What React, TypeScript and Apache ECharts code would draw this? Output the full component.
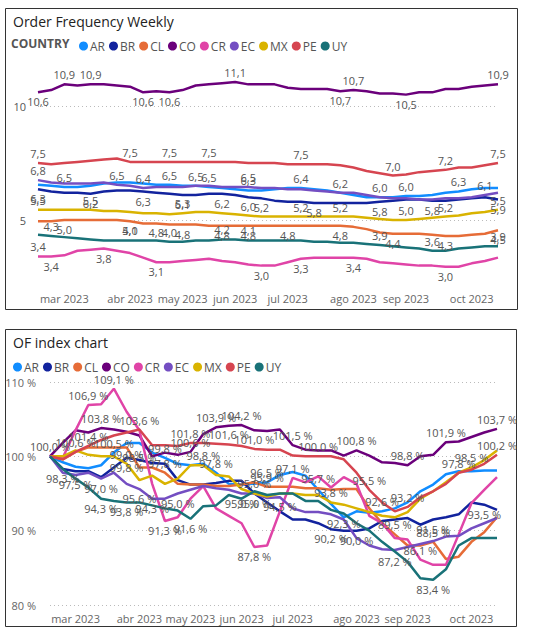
import * as echarts from 'echarts';
import React, { useEffect, useRef } from 'react';

const countries = ['AR', 'BR', 'CL', 'CO', 'CR', 'EC', 'MX', 'PE', 'UY'];
const colors = ['#118DFF', '#12239E', '#E66C37', '#6B007B', '#E044A7', '#744EC2', '#D9B300', '#D64550', '#197278'];

// weekly categories, from 2023-02-20
const weeks: string[] = [];
for (let i = 0; i < 36; i++) {
  const d = new Date(Date.UTC(2023, 1, 20 + i * 7));
  weeks.push(d.toISOString().slice(0, 10));
}
const monthIdx = [2, 7, 11, 15, 19, 24, 28, 33];
const monthNames = ['mar 2023', 'abr 2023', 'may 2023', 'jun 2023', 'jul 2023', 'ago 2023', 'sep 2023', 'oct 2023'];

// Order frequency weekly
const ofAR = [6.55,6.5,6.45,6.45,6.5,6.6,6.65,6.65,6.6,6.55,6.55,6.5,6.5,6.45,6.4,6.35,6.3,6.3,6.35,6.4,6.4,6.35,6.3,6.2,6.1,6.0,6.0,6.0,6.05,6.05,6.1,6.2,6.25,6.35,6.4,6.4];
const ofBR = [6.35,6.25,6.2,6.2,6.15,6.25,6.3,6.3,6.25,6.2,6.15,6.1,6.1,6.15,6.15,6.1,6.0,5.95,5.85,5.8,5.8,5.75,5.75,5.75,5.75,5.75,5.8,5.85,5.9,5.9,5.85,5.85,5.9,5.95,6.0,5.9];
const ofCL = [4.95,4.95,5.0,5.0,5.0,5.0,5.0,4.95,4.85,4.85,4.8,4.8,4.8,4.75,4.75,4.75,4.75,4.75,4.75,4.75,4.75,4.75,4.75,4.75,4.7,4.6,4.45,4.4,4.4,4.4,4.35,4.3,4.3,4.35,4.4,4.55];
const ofCO = [10.6,10.7,10.95,10.9,10.95,10.95,10.9,10.85,10.6,10.65,10.6,10.7,10.9,10.95,11.0,11.05,10.95,10.95,10.95,10.8,10.75,10.75,10.75,10.65,10.7,10.65,10.55,10.55,10.5,10.6,10.6,10.75,10.75,10.85,10.9,10.95];
const ofCR = [3.4,3.4,3.45,3.65,3.7,3.75,3.65,3.55,3.35,3.15,3.15,3.2,3.25,3.3,3.2,3.15,3.05,3.0,3.0,3.15,3.3,3.35,3.35,3.35,3.35,3.3,3.15,3.1,3.05,3.0,3.0,2.95,2.95,3.1,3.2,3.35];
const ofEC = [6.75,6.65,6.6,6.6,6.6,6.65,6.55,6.5,6.4,6.45,6.45,6.45,6.5,6.5,6.45,6.45,6.45,6.4,6.4,6.35,6.35,6.3,6.25,6.2,6.2,6.1,6.0,5.95,5.95,5.9,5.9,5.95,5.95,6.0,6.1,6.2];
const ofMX = [5.45,5.45,5.45,5.45,5.45,5.4,5.4,5.35,5.3,5.3,5.25,5.3,5.35,5.35,5.3,5.25,5.2,5.15,5.15,5.15,5.15,5.15,5.15,5.15,5.15,5.1,5.05,5.0,5.0,5.05,5.1,5.15,5.2,5.3,5.35,5.45];
const ofPE = [7.5,7.45,7.5,7.55,7.6,7.65,7.7,7.55,7.55,7.55,7.55,7.55,7.55,7.55,7.55,7.55,7.5,7.5,7.5,7.45,7.45,7.45,7.45,7.4,7.3,7.15,7.05,6.95,7.0,7.1,7.15,7.2,7.3,7.3,7.4,7.5];
const ofUY = [4.35,4.3,4.25,4.2,4.15,4.1,4.1,4.1,4.1,4.1,4.05,4.05,4.1,4.1,4.15,4.15,4.1,4.1,4.1,4.1,4.1,4.05,4.05,4.0,4.0,3.95,3.9,3.85,3.8,3.75,3.65,3.65,3.75,3.8,3.85,3.85];

// OF index (%)
const ixAR = [100,99.2,98.6,98.4,98.8,100.5,101.8,101.8,100.5,99.8,99,98.8,99,97.8,96.3,96.2,96.3,96.5,97.5,97.9,97.4,95.5,93.6,91.8,92.6,92.4,92.6,93,93.8,95.3,96.2,97.6,98,98,98.1,98.1];
const ixBR = [100,98.3,98,98,97.2,98.5,99.8,99.5,99.1,99,96.8,96.2,96.2,96.4,96.7,96.7,95,93.8,92.6,91.5,91.5,91,90.2,90,90,90.3,91.3,91.5,91.7,90.8,91.5,91.8,92.2,93.8,93.5,92.8];
const ixCL = [100,99.6,100.6,101.2,101.2,101.2,101.2,98.5,98.5,97.8,96.3,96.2,96.2,96,96,96.2,96.5,95.9,95.9,95.9,95.7,95.7,95.5,95.6,95.6,93,91,89.5,88,88,88.5,86.2,86.5,88.5,89.8,91.8];
const ixCO = [100,101.8,103.5,103.2,103.8,103.6,103.3,102.8,100,100.5,100.2,100.6,103,103.9,104.1,104.2,103.5,103.4,103.6,101.5,100.9,100.8,100.8,100.1,100.8,100.1,99.2,99.1,98.8,100,100.2,101.9,102,102.6,103.2,103.7];
const ixCR = [100,99.8,103.5,106.9,107,109.1,106,103.5,96.3,91.3,91.8,94.3,96,93,92,91,87.8,88,92.6,97.1,96.5,97.3,95.8,97.2,96.3,92,91,89,88.8,86.1,85.4,85.4,89.5,93.7,95.5,97.2];
const ixEC = [100,97.8,97.5,97.8,97,97.8,96.3,95.6,94.3,94.3,95,95.5,96,95.7,95.5,95,95,94.4,94.5,93,92.5,92.5,92.2,91.5,89,88,87.5,87.4,87.8,88.2,88.6,89.2,89.3,90.3,91,91.7];
const ixMX = [100,100,100.8,100.2,100,100,99,96.8,97.4,96.3,97,98.8,98.8,97.5,97.3,95.6,95,94.6,95,95,94.8,94.8,93.8,93.5,93,92.5,92,91.8,92.5,94.3,95.3,96.5,97.8,98.5,99.5,100.8];
const ixPE = [100,99.6,100.6,101.4,102.2,102.8,103.2,103.6,101.5,101.5,101.4,101.8,101.8,101.7,101.6,101.4,101,100.9,100.9,100.1,100,100,100,99.6,97.8,95.5,93.8,92.6,93.2,94.5,95.3,96.3,97.8,98.2,99,100.2];
const ixUY = [100,98.3,97,95.8,94.3,94,93.8,93.8,93.4,93,92.7,91.6,93.3,93.4,94.8,94.3,95.3,94.8,95,95,94,94,92.8,92.3,91,90,88.5,87.2,85.8,83.6,83.4,84.8,88,89,89,89];

const ofData = [ofAR, ofBR, ofCL, ofCO, ofCR, ofEC, ofMX, ofPE, ofUY];
const ixData = [ixAR, ixBR, ixCL, ixCO, ixCR, ixEC, ixMX, ixPE, ixUY];

type LabelSet = { top?: number[]; bottom?: number[] };
const ofLabels: LabelSet[] = [
  { top: [2, 10, 13, 16, 20, 23, 28, 32] },
  { bottom: [0, 4, 8, 11, 14, 16, 21, 26, 30, 35] },
  { bottom: [2, 7, 9, 11, 14, 16, 19, 23, 27, 31, 35] },
  { top: [2, 4, 15, 24, 35], bottom: [0, 8, 10, 23, 28] },
  { top: [0], bottom: [1, 5, 9, 17, 20, 24, 31] },
  { top: [0, 6, 8, 12, 16, 26, 34] },
  { top: [0, 4, 11, 17, 20, 23, 28, 31, 35] },
  { top: [0, 7, 10, 13, 20, 27, 31, 35] },
  { top: [1, 7, 10, 14, 16, 26, 30, 35] },
];
const ixLabels: LabelSet[] = [
  { top: [5, 9, 13, 17, 26] },
  { bottom: [1, 6, 16, 22, 24, 30, 34] },
  { top: [2, 7, 9, 17, 21, 27, 30] },
  { top: [0, 4, 11, 13, 15, 19, 24, 28, 31, 35] },
  { top: [3, 5, 19, 29], bottom: [9, 16] },
  { bottom: [2, 4, 7, 8, 10, 15, 18] },
  { top: [6, 12, 16, 22, 33] },
  { top: [3, 7, 11, 14, 16, 21, 25, 28, 32, 35] },
  { bottom: [4, 6, 11, 23, 27, 30] },
];

const fmt = (v: number) => v.toFixed(1).replace('.', ',');
const FONT = 'Open Sans';

function buildData(vals: number[], lab: LabelSet) {
  return vals.map((v, i) => {
    const pos = lab.top?.includes(i) ? 'top' : lab.bottom?.includes(i) ? 'bottom' : null;
    return pos ? { value: v, label: { show: true, position: pos } } : v;
  });
}

const App: React.FC = () => {
  const chartRef = useRef<HTMLDivElement>(null);

  useEffect(() => {
    if (!chartRef.current) return;
    const chart = echarts.init(chartRef.current, undefined, { renderer: 'svg' });

    const xAxisBase = {
      type: 'category' as const,
      data: weeks,
      boundaryGap: false,
      axisLine: { show: false },
      axisTick: { show: false },
      axisLabel: {
        interval: (i: number) => monthIdx.includes(i),
        formatter: (_v: string, i: number) => monthNames[monthIdx.indexOf(i)] ?? '',
        color: '#666',
        fontSize: 11,
        fontFamily: FONT,
      },
    };

    const lineSeries = (i: number, axis: number, vals: number[], lab: LabelSet, pct: boolean) => ({
      name: countries[i],
      type: 'line' as const,
      xAxisIndex: axis,
      yAxisIndex: axis,
      data: buildData(vals, lab),
      symbol: 'circle',
      symbolSize: 0.1,
      showSymbol: true,
      lineStyle: { width: 2.5, color: colors[i] },
      itemStyle: { color: colors[i] },
      label: {
        show: false,
        color: '#555',
        fontSize: 11,
        fontFamily: FONT,
        distance: 4,
        formatter: (p: any) => fmt(p.value) + (pct ? ' %' : ''),
      },
      labelLayout: { hideOverlap: false },
    });

    const legendBase = {
      data: countries,
      icon: 'circle',
      itemWidth: 9,
      itemHeight: 9,
      itemGap: 4,
      textStyle: { color: '#555', fontSize: 12, fontFamily: FONT, padding: [0, 0, 0, -3] },
    };

    chart.setOption({
      animation: false,
      color: colors,
      graphic: [
        { type: 'rect', shape: { x: 5.5, y: 8.5, width: 512, height: 301 }, style: { fill: 'none', stroke: '#333', lineWidth: 1 }, z: -10 },
        { type: 'rect', shape: { x: 5.5, y: 329.5, width: 511, height: 297 }, style: { fill: 'none', stroke: '#333', lineWidth: 1 }, z: -10 },
        { type: 'text', x: 11, y: 37, style: { text: 'COUNTRY', fill: '#555', font: `bold 12px "${FONT}"` } },
      ],
      title: [
        { text: 'Order Frequency Weekly', left: 8, top: 9, textStyle: { fontSize: 14, fontWeight: 'normal', color: '#222', fontFamily: FONT } },
        { text: 'OF index chart', left: 8, top: 330, textStyle: { fontSize: 14, fontWeight: 'normal', color: '#222', fontFamily: FONT } },
      ],
      legend: [
        { ...legendBase, left: 74, top: 35 },
        { ...legendBase, left: 8, top: 356 },
      ],
      grid: [
        { left: 38, right: 47, top: 70, height: 215 },
        { left: 50, right: 48, top: 382, height: 223 },
      ],
      xAxis: [
        { ...xAxisBase, gridIndex: 0 },
        { ...xAxisBase, gridIndex: 1 },
      ],
      yAxis: [
        {
          type: 'value',
          gridIndex: 0,
          min: 2.15,
          max: 11.58,
          axisTick: { show: false, customValues: [5, 10] },
          splitLine: { show: true, lineStyle: { type: [1, 3], color: '#bbb' } },
          axisLabel: { customValues: [5, 10], color: '#555', fontSize: 11, fontFamily: FONT, margin: 12 },
        },
        {
          type: 'value',
          gridIndex: 1,
          min: 80,
          max: 110,
          interval: 10,
          splitLine: { lineStyle: { type: [1, 3], color: '#bbb' } },
          axisLabel: { formatter: '{value} %', color: '#666', fontSize: 11, fontFamily: FONT, margin: 14 },
        },
      ],
      series: [
        ...ofData.map((d, i) => lineSeries(i, 0, d, ofLabels[i], false)),
        ...ixData.map((d, i) => lineSeries(i, 1, d, ixLabels[i], true)),
      ],
    });

    return () => {
      chart.dispose();
    };
  }, []);

  return (
    <div style={{ position: 'absolute', left: 0, top: 0, width: 545, height: 633, background: '#fff' }}>
      <div ref={chartRef} style={{ width: 545, height: 633 }}></div>
    </div>
  );
};

export default App;
